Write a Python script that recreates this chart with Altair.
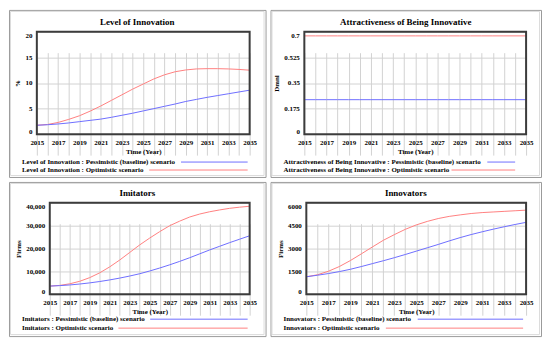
import altair as alt
import pandas as pd

# ---------------- data ----------------
years = [2015, 2016, 2017, 2018, 2019, 2020, 2021, 2022, 2023, 2024, 2025,
         2026, 2027, 2028, 2029, 2030, 2031, 2032, 2033, 2034, 2035]

innovation_pess = [1.75, 1.85, 2.0, 2.2, 2.45, 2.7, 2.95, 3.3, 3.7, 4.1, 4.55,
                   5.0, 5.45, 5.9, 6.4, 6.8, 7.2, 7.55, 7.9, 8.25, 8.6]
innovation_opt = [1.75, 1.9, 2.3, 2.9, 3.6, 4.5, 5.5, 6.6, 7.7, 8.8, 9.8,
                  10.8, 11.6, 12.2, 12.55, 12.75, 12.8, 12.8, 12.75, 12.65, 12.5]

attract_pess = [0.236, 0.236, 0.236, 0.236, 0.236, 0.236, 0.236, 0.236, 0.236, 0.236, 0.236,
                0.236, 0.236, 0.236, 0.236, 0.236, 0.236, 0.236, 0.236, 0.236, 0.236]
attract_opt = [0.672, 0.672, 0.672, 0.672, 0.672, 0.672, 0.672, 0.672, 0.672, 0.672, 0.672,
               0.672, 0.672, 0.672, 0.672, 0.672, 0.672, 0.672, 0.672, 0.672, 0.672]

imitators_pess = [3600, 3800, 4100, 4500, 5000, 5600, 6300, 7100, 8000, 9000, 10200,
                  11500, 12900, 14400, 16000, 17700, 19400, 21000, 22600, 24100, 25600]
imitators_opt = [3600, 3900, 4600, 5700, 7300, 9400, 12000, 15000, 18300, 21600, 24600,
                 27400, 30000, 32000, 33800, 35100, 36100, 36900, 37600, 38100, 38500]

innovators_pess = [1150, 1250, 1360, 1490, 1640, 1820, 2010, 2200, 2400, 2610, 2830,
                   3050, 3270, 3500, 3720, 3920, 4100, 4270, 4430, 4580, 4720]
innovators_opt = [1150, 1280, 1510, 1820, 2210, 2650, 3100, 3540, 3910, 4260, 4550,
                  4780, 4970, 5110, 5210, 5300, 5360, 5400, 5440, 5480, 5520]

panel_titles = ["Level of Innovation", "Attractiveness of Being Innovative",
                "Imitators", "Innovators"]
y_titles = ["%", "Dmnl", "Firms", "Firms"]
x_title = "Time (Year)"
scenario_labels = ["Pessimistic (baseline) scenario", "Optimistic scenario"]

ticks_innovation = [0, 5, 10, 15, 20]
ticks_attract = [0, 0.175, 0.35, 0.525, 0.7]
ticks_imitators = [0, 10000, 20000, 30000, 40000]
ticks_innovators = [0, 1500, 3000, 4500, 6000]

# ---------------- style ----------------
FONT = "Liberation Serif"
BLUE = "#6e6eff"
RED = "#ff8080"
FRAME = "#3c3c3c"


def make_panel(title, ytitle, pess, opt, yticks, yfmt, W, H, pl, pr, pt, pb,
               title_y, leg_y, leg_starts, leg_end):
    df = pd.DataFrame({
        "year": years + years,
        "value": pess + opt,
        "scenario": ["Pessimistic"] * len(years) + ["Optimistic"] * len(years),
    })
    xenc = alt.X(
        "year:Q",
        scale=alt.Scale(domain=[years[0], years[-1]], range=[pl, pr], nice=False, zero=False),
        axis=alt.Axis(values=years,
                      labelExpr="datum.value % 2 == 1 ? format(datum.value, 'd') : ''",
                      title=x_title, offset=pb - H, labelFlush=False,
                      labelOverlap=False, grid=True),
    )
    yenc = alt.Y(
        "value:Q",
        scale=alt.Scale(domain=[yticks[0], yticks[-1]], range=[pb, pt], nice=False, zero=False),
        axis=alt.Axis(values=yticks, labelExpr=f"format(datum.value, '{yfmt}')",
                      title=ytitle, offset=-pl,
                      labelFlush=True, labelOverlap=False, grid=True),
    )
    base = alt.Chart(df)
    red = base.transform_filter(alt.datum.scenario == "Optimistic").mark_line(
        color=RED, strokeWidth=1).encode(x=xenc, y=yenc)
    blue = base.transform_filter(alt.datum.scenario == "Pessimistic").mark_line(
        color=BLUE, strokeWidth=1).encode(x=xenc, y=yenc)

    one = alt.Chart(pd.DataFrame({"k": [0]}))
    frame = one.mark_rect(filled=False, stroke=FRAME, strokeWidth=2).encode(
        x=alt.value(pl), x2=alt.value(pr), y=alt.value(pt), y2=alt.value(pb))
    inner = one.mark_rect(filled=False, stroke="#dcdcdc", strokeWidth=1).encode(
        x=alt.value(1.5), x2=alt.value(W - 1.5), y=alt.value(1.5), y2=alt.value(H - 1.5))
    ttl = one.mark_text(font=FONT, fontWeight="bold", fontSize=9, align="center",
                        baseline="middle", color="black").encode(
        x=alt.value(W / 2), y=alt.value(title_y), text=alt.value(title))

    layers = [red, blue, frame, inner, ttl]
    colors = [BLUE, RED]
    for i, lab in enumerate(scenario_labels):
        txt = one.mark_text(font=FONT, fontWeight="bold", fontSize=7, align="left",
                            baseline="middle", color="black").encode(
            x=alt.value(13), y=alt.value(leg_y[i]), text=alt.value(f"{title} : {lab}"))
        rule = one.mark_rule(color=colors[i], strokeWidth=1).encode(
            x=alt.value(leg_starts[i]), x2=alt.value(leg_end), y=alt.value(leg_y[i]))
        layers += [txt, rule]
    return alt.layer(*layers).properties(width=W, height=H)


WL, WR = 258, 272
H1, H2 = 168, 155

p1 = make_panel(panel_titles[0], y_titles[0], innovation_pess, innovation_opt,
                ticks_innovation, "d", WL, H1, 28, 242, 22, 125, 12,
                [153, 161], [173, 141], 240)
p2 = make_panel(panel_titles[1], y_titles[1], attract_pess, attract_opt,
                ticks_attract, "~g", WR, H1, 34, 257, 22, 125, 12,
                [153, 161], [218, 182], 246)
p3 = make_panel(panel_titles[2], y_titles[2], imitators_pess, imitators_opt,
                ticks_imitators, ",d", WL, H2, 41, 242, 21, 113, 11,
                [138, 147], [142, 110], 240)
p4 = make_panel(panel_titles[3], y_titles[3], innovators_pess, innovators_opt,
                ticks_innovators, "d", WR, H2, 36, 257, 21, 113, 11,
                [138, 147], [148, 116], 254)

row1 = alt.hconcat(p1, p2, spacing=3)
row2 = alt.hconcat(p3, p4, spacing=3)
chart = alt.vconcat(row1, row2, spacing=3).properties(
    padding={"left": 0, "top": 0, "right": 0, "bottom": 0}
).configure(background="white").configure_view(
    stroke="#9a9a9a", strokeWidth=1
).configure_axis(
    labelFont=FONT, labelFontWeight="bold", labelFontSize=7, labelColor="black",
    titleFont=FONT, titleFontWeight="bold", titleFontSize=7, titleColor="black",
    domain=False, ticks=False, gridColor="#d2d2d2", gridWidth=1,
    labelPadding=4, titlePadding=2,
).configure_axisY(labelPadding=5, titlePadding=4)

chart.save("out.html", embed_options={"renderer": "svg", "actions": False})
